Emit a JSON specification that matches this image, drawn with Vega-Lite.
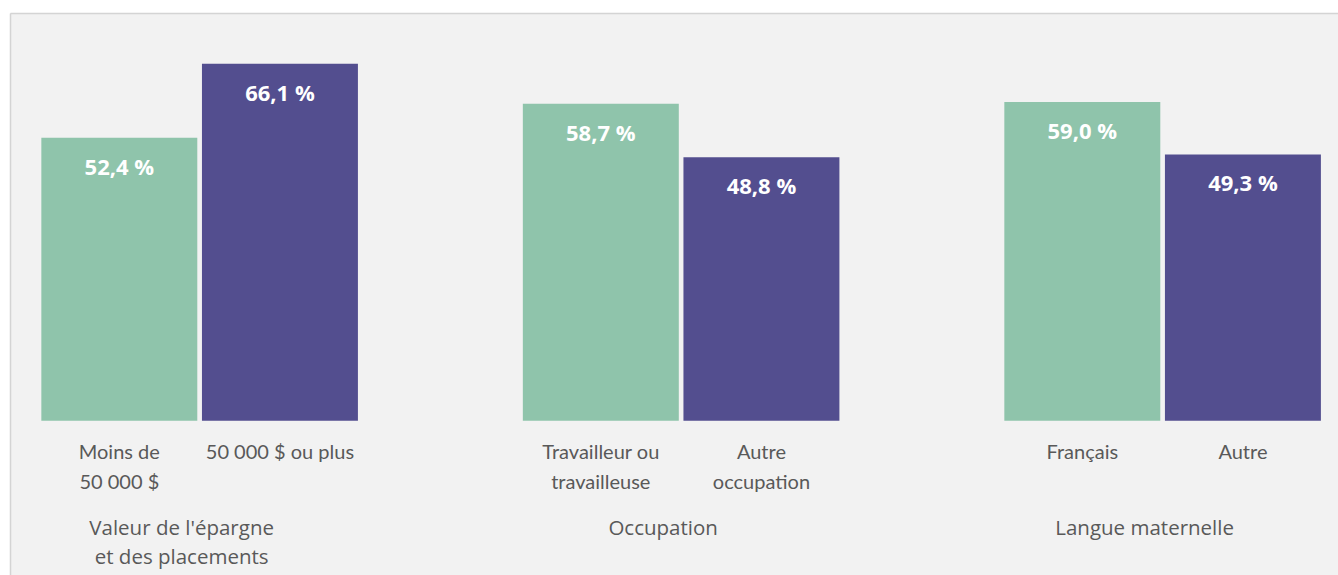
{
  "$schema": "https://vega.github.io/schema/vega-lite/v6.json",
  "width": 1328,
  "height": 562,
  "autosize": {"type": "none"},
  "padding": {"left": 10, "top": 13, "right": 0, "bottom": 0},
  "background": "#ffffff",
  "config": {"view": {"fill": "#f2f2f2", "stroke": null}},
  "datasets": {
    "barres": [
      {"groupe": "Épargne", "rang": "1", "categorie": "Moins de\n50 000 $", "valeur": 52.4},
      {"groupe": "Épargne", "rang": "2", "categorie": "50 000 $ ou plus", "valeur": 66.1},
      {"groupe": "Occupation", "rang": "1", "categorie": "Travailleur ou\ntravailleuse", "valeur": 58.7},
      {"groupe": "Occupation", "rang": "2", "categorie": "Autre\noccupation", "valeur": 48.8},
      {"groupe": "Langue", "rang": "1", "categorie": "Français", "valeur": 59.0},
      {"groupe": "Langue", "rang": "2", "categorie": "Autre", "valeur": 49.3}
    ],
    "groupes": [
      {"groupe": "Épargne", "titre": "Valeur de l'épargne\net des placements"},
      {"groupe": "Occupation", "titre": "Occupation"},
      {"groupe": "Langue", "titre": "Langue maternelle"}
    ]
  },
  "encoding": {
    "x": {
      "field": "groupe",
      "type": "nominal",
      "scale": {"domain": ["Épargne", "Occupation", "Langue"], "paddingInner": 0.3425, "paddingOuter": 0.0503, "align": 0.647},
      "axis": {"orient": "top", "domain": true, "domainColor": "#d4d4d4", "domainWidth": 1.5, "ticks": false, "labels": false, "grid": false, "title": null}
    }
  },
  "layer": [
    {
      "data": {"name": "barres"},
      "mark": {"type": "bar"},
      "encoding": {
        "xOffset": {"field": "rang", "type": "nominal", "scale": {"domain": ["1", "2"], "paddingInner": 0.029, "paddingOuter": 0}},
        "y": {"field": "valeur", "type": "quantitative", "scale": {"domain": [-28.57, 75.5], "nice": false, "zero": false},
              "axis": {"orient": "left", "domain": true, "domainColor": "#d4d4d4", "domainWidth": 1.5, "ticks": false, "labels": false, "grid": false, "title": null}},
        "color": {"field": "rang", "type": "nominal", "scale": {"domain": ["1", "2"], "range": ["#8fc4ab", "#534e8f"]}, "legend": null}
      }
    },
    {
      "data": {"name": "barres"},
      "transform": [{"calculate": "replace(format(datum.valeur, '.1f'), '.', ',') + ' %'", "as": "etiquette"}],
      "mark": {"type": "text", "font": "Open Sans", "fontWeight": "bold", "fontSize": 22, "color": "#ffffff", "baseline": "alphabetic", "align": "center", "dy": 37},
      "encoding": {
        "xOffset": {"field": "rang", "type": "nominal", "scale": {"domain": ["1", "2"], "paddingInner": 0.029, "paddingOuter": 0}},
        "y": {"field": "valeur", "type": "quantitative", "scale": {"domain": [-28.57, 75.5], "nice": false, "zero": false}},
        "text": {"field": "etiquette"}
      }
    },
    {
      "data": {"name": "barres"},
      "mark": {"type": "text", "font": "Lato", "fontSize": 20, "color": "#595959", "baseline": "alphabetic", "align": "center", "dy": 38.5, "lineBreak": "\n", "lineHeight": 30},
      "encoding": {
        "xOffset": {"field": "rang", "type": "nominal", "scale": {"domain": ["1", "2"], "paddingInner": 0.029, "paddingOuter": 0}},
        "y": {"datum": 0, "type": "quantitative", "scale": {"domain": [-28.57, 75.5], "nice": false, "zero": false}},
        "text": {"field": "categorie"}
      }
    },
    {
      "data": {"name": "groupes"},
      "mark": {"type": "text", "font": "Open Sans", "fontSize": 20.5, "color": "#595959", "baseline": "alphabetic", "align": "center", "dy": 114, "dx": -18, "lineBreak": "\n", "lineHeight": 29},
      "encoding": {
        "y": {"datum": 0, "type": "quantitative", "scale": {"domain": [-28.57, 75.5], "nice": false, "zero": false}},
        "text": {"field": "titre"}
      }
    }
  ]
}
